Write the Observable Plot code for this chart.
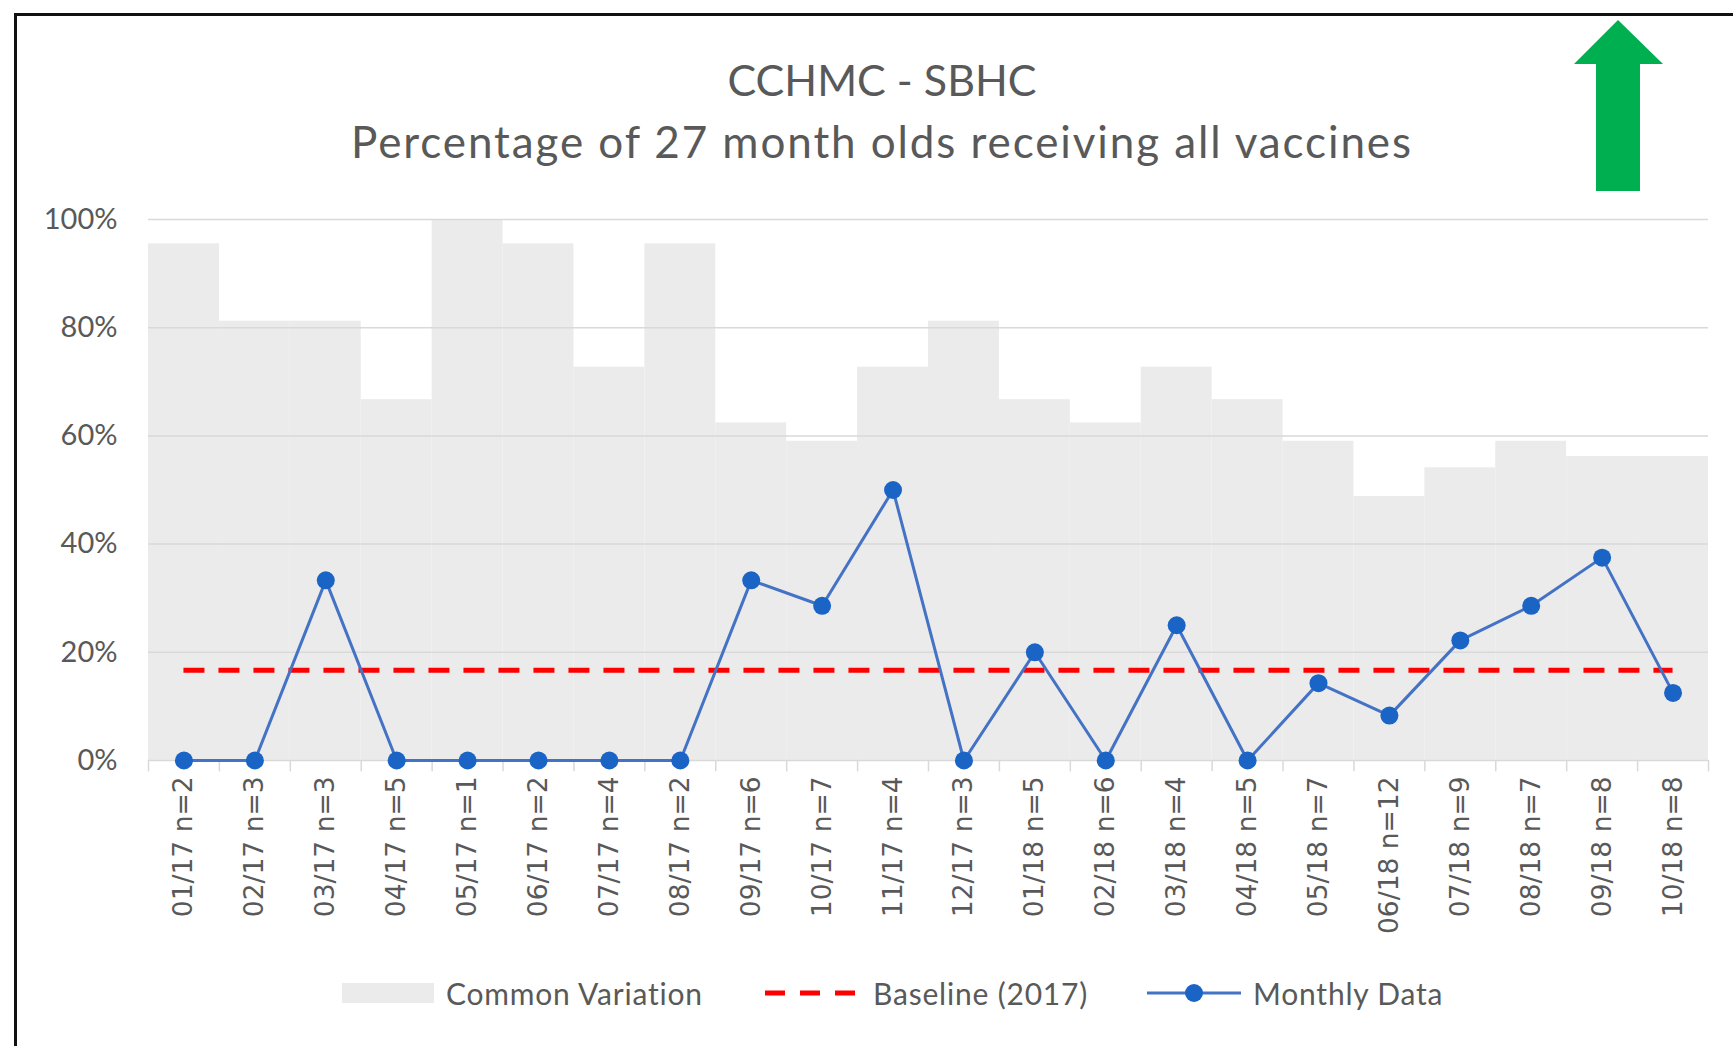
<!DOCTYPE html>
<html>
<head>
<meta charset="utf-8">
<script src="https://cdn.jsdelivr.net/npm/d3@7"></script>
<script src="https://cdn.jsdelivr.net/npm/@observablehq/plot@0.6"></script>
<style>
  html, body { margin: 0; padding: 0; background: #fff; }
  #wrap { position: relative; width: 1733px; height: 1046px; overflow: hidden; font-family: Lato, "Open Sans", sans-serif; }
  #frame { position: absolute; left: 14px; top: 13px; width: 1800px; height: 1100px; border-left: 3px solid #111; border-top: 3px solid #111; box-sizing: border-box; }
  .title { position: absolute; left: 0; width: 1764px; text-align: center; color: #595959; line-height: 1; white-space: nowrap; }
  #chart { position: absolute; left: 0; top: 0; }
  #chart g[aria-label^="y-axis"] text { font-family: Lato, sans-serif; font-size: 29px; fill: #595959; }
  #chart g[aria-label^="x-axis"] text { font-family: "DejaVu Sans", sans-serif; font-size: 26.5px; fill: #595959; }
  .leg { position: absolute; top: 975px; height: 36px; display: flex; align-items: center; font-size: 30px; letter-spacing: 0.8px; color: #595959; white-space: nowrap; }
  .leg svg { margin-right: 12px; }
  #arrow { position: absolute; left: 0; top: 0; }
</style>
</head>
<body>
<div id="wrap">
  <div id="frame"></div>
  <div class="title" id="t1" style="top:58px; font-size:43px;">CCHMC - SBHC</div>
  <div class="title" id="t2" style="top:119px; font-size:44px; letter-spacing:1.9px;">Percentage of 27 month olds receiving all vaccines</div>
  <div id="chart"></div>
  <svg id="arrow" width="1733" height="200"><polygon points="1618,20 1663,64 1640,64 1640,191 1596,191 1596,64 1574,64" fill="#00B050"/></svg>
  <div class="leg" style="left:342px"><svg width="92" height="20"><rect x="0" y="0" width="92" height="20" fill="#ebebeb"/></svg>Common Variation</div>
  <div class="leg" style="left:765px"><svg width="96" height="20"><line x1="0" x2="96" y1="10" y2="10" stroke="#ff0000" stroke-width="5" stroke-dasharray="20,15"/></svg>Baseline (2017)</div>
  <div class="leg" style="left:1147px"><svg width="94" height="20"><line x1="0" x2="94" y1="10" y2="10" stroke="#4472C4" stroke-width="3"/><circle cx="47" cy="10" r="9" fill="#1a64c6"/></svg>Monthly Data</div>
</div>
<script>
const labels = ["01/17 n=2","02/17 n=3","03/17 n=3","04/17 n=5","05/17 n=1","06/17 n=2","07/17 n=4","08/17 n=2","09/17 n=6","10/17 n=7","11/17 n=4","12/17 n=3","01/18 n=5","02/18 n=6","03/18 n=4","04/18 n=5","05/18 n=7","06/18 n=12","07/18 n=9","08/18 n=7","09/18 n=8","10/18 n=8"];
const monthly = [0,0,0.333,0,0,0,0,0,0.333,0.286,0.5,0,0.2,0,0.25,0,0.143,0.083,0.222,0.286,0.375,0.125];
const upper = [0.955,0.812,0.812,0.667,1.0,0.955,0.727,0.955,0.624,0.590,0.727,0.812,0.667,0.624,0.727,0.667,0.590,0.488,0.541,0.590,0.562,0.562];
const baseline = 0.167;
const yTicks = [0,0.2,0.4,0.6,0.8,1.0];

const rows = labels.map((label, i) => ({i, label, monthly: monthly[i], upper: upper[i]}));
const edges = d3.range(labels.length + 1).map(i => i - 0.5);

const plot = Plot.plot({
  width: 1733,
  height: 950,
  marginLeft: 148,
  marginRight: 25,
  marginTop: 219,
  marginBottom: 190,
  style: {background: "transparent", overflow: "visible"},
  x: {type: "linear", domain: [-0.5, labels.length - 0.5], ticks: d3.range(labels.length), tickFormat: i => labels[i], tickRotate: -90, tickSize: 0, tickPadding: 16, label: null},
  y: {domain: [0, 1], ticks: yTicks, tickFormat: d => Math.round(d * 100) + "%", tickSize: 0, tickPadding: 31, label: null},
  marks: [
    Plot.rectY(rows, {x1: d => d.i - 0.5, x2: d => d.i + 0.5, y1: 0, y2: "upper", fill: "#ebebeb"}),
    Plot.ruleY(yTicks, {stroke: "#d9d9d9", strokeWidth: 1.5}),
    Plot.ruleX(edges, {y1: 0, y2: -0.021, stroke: "#d9d9d9", strokeWidth: 1.5}),
    Plot.ruleY([baseline], {x1: 0, x2: labels.length - 1, stroke: "#ff0000", strokeWidth: 5, strokeDasharray: "21,14"}),
    Plot.line(rows, {x: "i", y: "monthly", stroke: "#4472C4", strokeWidth: 3}),
    Plot.dot(rows, {x: "i", y: "monthly", r: 9, fill: "#1a64c6"})
  ]
});
document.getElementById("chart").appendChild(plot);
</script>
</body>
</html>
